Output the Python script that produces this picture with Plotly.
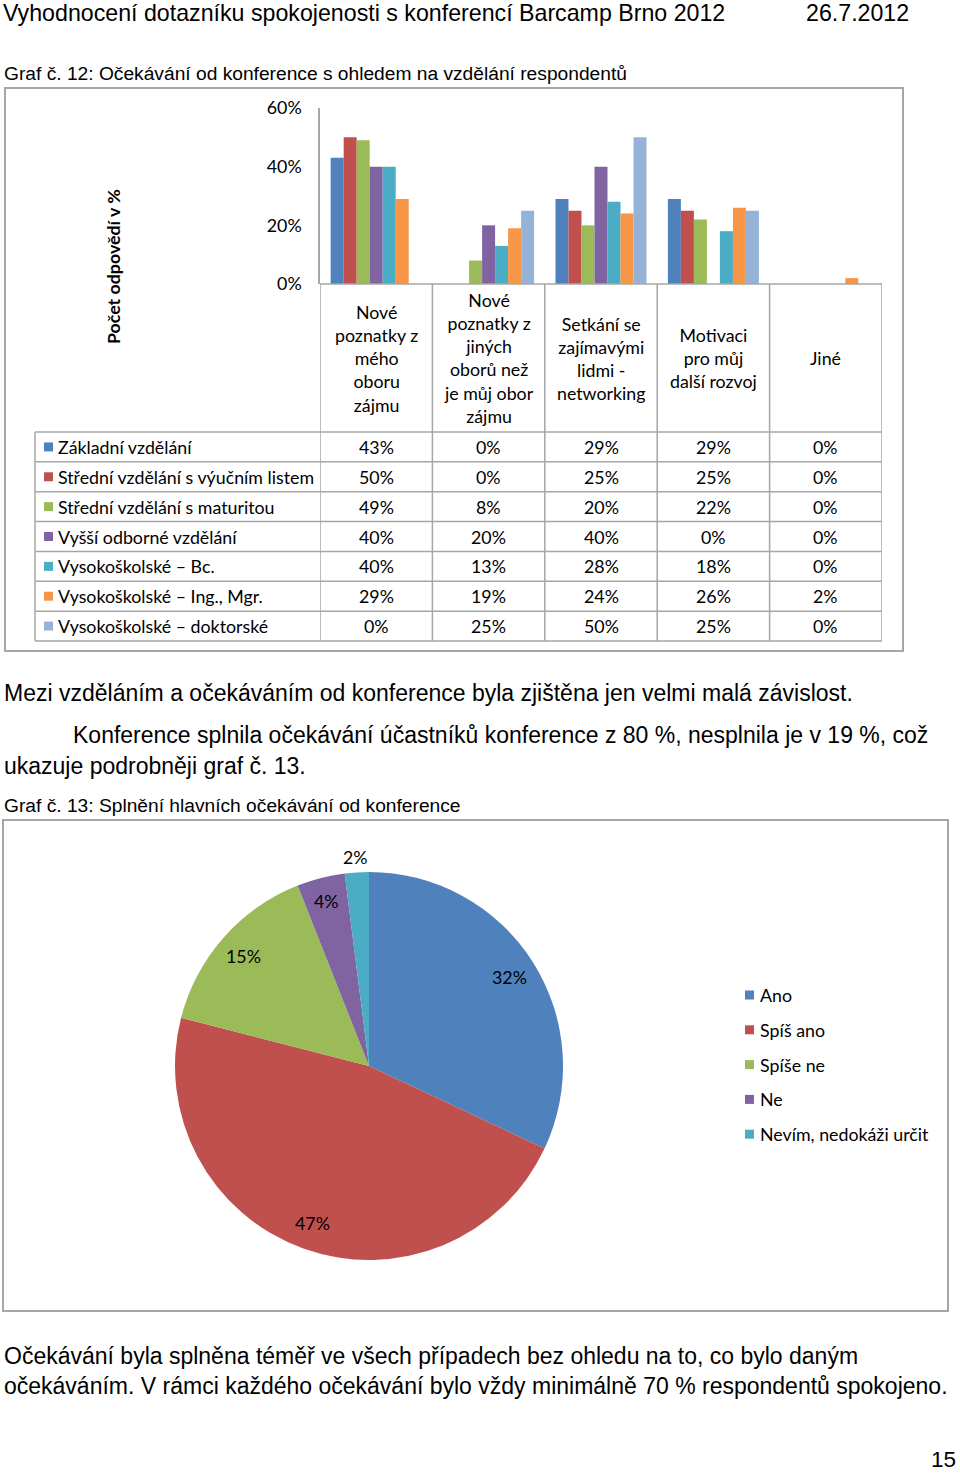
import math
import plotly.graph_objects as go

W, H = 960, 1473

# ---------------- data ----------------
categories = [
    "Nové<br>poznatky z<br>mého<br>oboru<br>zájmu",
    "Nové<br>poznatky z<br>jiných<br>oborů než<br>je můj obor<br>zájmu",
    "Setkání se<br>zajímavými<br>lidmi -<br>networking",
    "Motivaci<br>pro můj<br>další rozvoj",
    "Jiné",
]
series_names = [
    "Základní vzdělání",
    "Střední vzdělání s výučním listem",
    "Střední vzdělání s maturitou",
    "Vyšší odborné vzdělání",
    "Vysokoškolské – Bc.",
    "Vysokoškolské – Ing., Mgr.",
    "Vysokoškolské – doktorské",
]
zakladni = [43, 0, 29, 29, 0]
stredni_vyucni = [50, 0, 25, 25, 0]
stredni_maturita = [49, 8, 20, 22, 0]
vyssi_odborne = [40, 20, 40, 0, 0]
vs_bc = [40, 13, 28, 18, 0]
vs_ing = [29, 19, 24, 26, 2]
vs_dr = [0, 25, 50, 25, 0]
series_values = [zakladni, stredni_vyucni, stredni_maturita, vyssi_odborne, vs_bc, vs_ing, vs_dr]
y_ticks = [0, 0.2, 0.4, 0.6]

pie_labels = ["Ano", "Spíš ano", "Spíše ne", "Ne", "Nevím, nedokáži určit"]
pie_values = [32, 47, 15, 4, 2]

bar_colors = ["#4F81BD", "#C0504D", "#9BBB59", "#8064A2", "#4BACC6", "#F79646", "#95B3D7"]
pie_colors = ["#4F81BD", "#C0504D", "#9BBB59", "#8064A2", "#4BACC6"]

DOC_FONT = "Liberation Sans Narrow, Arial Narrow, Liberation Sans, Arial, sans-serif"
CH_FONT = "Lato, Carlito, Calibri, sans-serif"
CH_SIZE = 17.8
GRID = "#a6a6a6"


def X(px):
    return px / W


def Y(py):
    return 1 - py / H


fig = go.Figure()

# ---------------- bar chart ----------------
cat_keys = [f"c{i}" for i in range(len(categories))]
for name, vals, col in zip(series_names, series_values, bar_colors):
    fig.add_trace(go.Bar(
        x=cat_keys, y=[v / 100 for v in vals], name=name,
        marker=dict(color=col, line=dict(width=0)),
        showlegend=False, xaxis="x", yaxis="y",
    ))

PLOT_L, PLOT_R = 320, 882
Y0, Y60 = 284, 108
fig.update_layout(
    xaxis=dict(domain=[X(PLOT_L), X(PLOT_R)], type="category", categoryarray=cat_keys,
               range=[-0.5, len(cat_keys) - 0.5], showticklabels=False, showgrid=False,
               zeroline=False, showline=False, fixedrange=True, automargin=False),
    yaxis=dict(domain=[Y(Y0), Y(Y60)], range=[0, 0.6], tickvals=y_ticks, tickformat=".0%",
               showgrid=False, zeroline=False, showline=True, linecolor=GRID, linewidth=1.5,
               ticks="outside", ticklen=13, tickcolor="rgba(0,0,0,0)", automargin=False,
               tickfont=dict(family=CH_FONT, size=CH_SIZE, color="#000"), fixedrange=True),
    bargap=0.19, bargroupgap=0, barmode="group",
)

shapes = []
annotations = []

# table geometry
TABLE_L = 35
HEAD_BOTTOM = 432
ROW_H = (641 - 432) / len(series_names)
TABLE_BOTTOM = HEAD_BOTTOM + ROW_H * len(series_names)

for i in range(len(cat_keys) + 1):
    shapes.append(dict(type="line", xref="x", yref="paper", x0=i - 0.5, x1=i - 0.5,
                       y0=Y(Y0), y1=Y(TABLE_BOTTOM), line=dict(color=GRID, width=1.5)))
shapes.append(dict(type="line", xref="paper", yref="paper", x0=X(TABLE_L), x1=X(TABLE_L),
                   y0=Y(HEAD_BOTTOM), y1=Y(TABLE_BOTTOM), line=dict(color=GRID, width=1.5)))
shapes.append(dict(type="line", xref="x", yref="paper", x0=-0.5, x1=len(cat_keys) - 0.5,
                   y0=Y(Y0), y1=Y(Y0), line=dict(color=GRID, width=1.5)))
for k in range(len(series_names) + 1):
    yy = HEAD_BOTTOM + k * ROW_H
    shapes.append(dict(type="line", xref="paper", yref="paper", x0=X(TABLE_L), x1=X(PLOT_R),
                       y0=Y(yy), y1=Y(yy), line=dict(color=GRID, width=1.5)))

for i, c in enumerate(categories):
    annotations.append(dict(xref="x", yref="paper", x=i, y=Y((Y0 + HEAD_BOTTOM) / 2), text=c,
                            showarrow=False, xanchor="center", yanchor="middle", align="center",
                            font=dict(family=CH_FONT, size=CH_SIZE, color="#000")))

for k, (name, vals, col) in enumerate(zip(series_names, series_values, bar_colors)):
    yc = HEAD_BOTTOM + (k + 0.5) * ROW_H
    shapes.append(dict(type="rect", xref="paper", yref="paper", x0=X(44), x1=X(53),
                       y0=Y(yc + 4.5), y1=Y(yc - 4.5), fillcolor=col, line=dict(width=0)))
    annotations.append(dict(xref="paper", yref="paper", x=X(56), y=Y(yc), text=name,
                            showarrow=False, xanchor="left", yanchor="middle",
                            font=dict(family=CH_FONT, size=CH_SIZE, color="#000")))
    for i, v in enumerate(vals):
        annotations.append(dict(xref="x", yref="paper", x=i, y=Y(yc), text=f"{v}%",
                                showarrow=False, xanchor="center", yanchor="middle",
                                font=dict(family=CH_FONT, size=CH_SIZE, color="#000")))

annotations.append(dict(xref="paper", yref="paper", x=X(113), y=Y(267),
                        text="<b>Počet odpovědí v %</b>", textangle=-90, showarrow=False,
                        xanchor="center", yanchor="middle",
                        font=dict(family=CH_FONT, size=CH_SIZE, color="#000")))

shapes.append(dict(type="rect", xref="paper", yref="paper", x0=X(5), x1=X(903),
                   y0=Y(651), y1=Y(88), line=dict(color=GRID, width=2), fillcolor="rgba(0,0,0,0)"))

# ---------------- pie chart ----------------
PCX, PCY, PR = 369, 1066, 194
fig.add_trace(go.Pie(
    labels=pie_labels, values=pie_values, sort=False, direction="clockwise", rotation=0,
    marker=dict(colors=pie_colors, line=dict(width=0)), textinfo="none", hoverinfo="label+percent",
    showlegend=False, automargin=False,
    domain=dict(x=[X(PCX - PR), X(PCX + PR)], y=[Y(PCY + PR), Y(PCY - PR)]),
))

total = sum(pie_values)
cum = 0
for lab, v in zip(pie_labels, pie_values):
    mid = (cum + v / 2) / total * 2 * math.pi
    cum += v
    frac = v / total
    r = PR * (1.08 if frac < 0.03 else (0.88 if frac < 0.1 else 0.86))
    lx = PCX + r * math.sin(mid)
    ly = PCY - r * math.cos(mid)
    annotations.append(dict(xref="paper", yref="paper", x=X(lx), y=Y(ly),
                            text=f"{round(frac * 100)}%", showarrow=False,
                            xanchor="center", yanchor="middle",
                            font=dict(family=CH_FONT, size=CH_SIZE, color="#000")))

for k, (lab, col) in enumerate(zip(pie_labels, pie_colors)):
    yc = 995 + k * 34.8
    shapes.append(dict(type="rect", xref="paper", yref="paper", x0=X(745), x1=X(754),
                       y0=Y(yc + 4.5), y1=Y(yc - 4.5), fillcolor=col, line=dict(width=0)))
    annotations.append(dict(xref="paper", yref="paper", x=X(758), y=Y(yc), text=lab,
                            showarrow=False, xanchor="left", yanchor="middle",
                            font=dict(family=CH_FONT, size=CH_SIZE, color="#000")))

shapes.append(dict(type="rect", xref="paper", yref="paper", x0=X(3), x1=X(948),
                   y0=Y(1311), y1=Y(820), line=dict(color=GRID, width=2), fillcolor="rgba(0,0,0,0)"))

# ---------------- document text ----------------
doc_texts = [
    ("Vyhodnocení dotazníku spokojenosti s konferencí Barcamp Brno 2012", 2, 13, "left", "middle", 23.2),
    ("26.7.2012", 910, 13, "right", "middle", 23.2),
    ("Graf č. 12: Očekávání od konference s ohledem na vzdělání respondentů", 3, 73, "left", "middle", 19.2),
    ("Mezi vzděláním a očekáváním od konference byla zjištěna jen velmi malá závislost.", 3, 693, "left", "middle", 23),
    ("Konference splnila očekávání účastníků konference z 80 %, nesplnila je v 19 %, což", 72, 735, "left", "middle", 23),
    ("ukazuje podrobněji graf č. 13.", 3, 766, "left", "middle", 23),
    ("Graf č. 13: Splnění hlavních očekávání od konference", 3, 805, "left", "middle", 19.2),
    ("Očekávání byla splněna téměř ve všech případech bez ohledu na to, co bylo daným", 3, 1356, "left", "middle", 23),
    ("očekáváním. V rámci každého očekávání bylo vždy minimálně 70 % respondentů spokojeno.", 3, 1386, "left", "middle", 23),
    ("15", 957, 1473, "right", "bottom", 22.5),
]
for t, x, y, xa, ya, sz in doc_texts:
    annotations.append(dict(xref="paper", yref="paper", x=X(x), y=Y(y), text=t, showarrow=False,
                            xanchor=xa, yanchor=ya, borderpad=0,
                            font=dict(family=DOC_FONT, size=sz, color="#000")))

fig.update_layout(
    width=W, height=H, margin=dict(l=0, r=0, t=0, b=0, pad=0, autoexpand=False),
    paper_bgcolor="white", plot_bgcolor="white",
    shapes=shapes, annotations=annotations, showlegend=False,
)

fig.write_html("out.html", config={"displayModeBar": False},
               post_script="document.body.style.margin='0';document.body.style.padding='0';")
